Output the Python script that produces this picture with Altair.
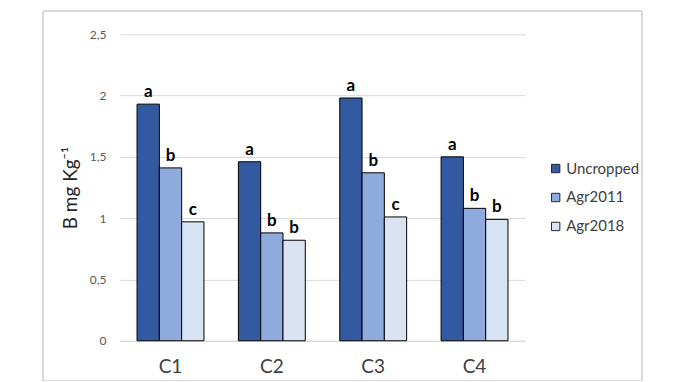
import altair as alt
import pandas as pd

categories = ["C1", "C2", "C3", "C4"]
series = ["Uncropped", "Agr2011", "Agr2018"]
uncropped = [1.93, 1.46, 1.98, 1.50]
agr2011 = [1.41, 0.88, 1.37, 1.08]
agr2018 = [0.97, 0.82, 1.01, 0.99]
letters_uncropped = ["a", "a", "a", "a"]
letters_agr2011 = ["b", "b", "b", "b"]
letters_agr2018 = ["c", "b", "c", "b"]
colors = ["#335AA0", "#8FAADC", "#DAE3F3"]
y_ticks = [0, 0.5, 1, 1.5, 2, 2.5]

rows = []
for vals, lets, s in [(uncropped, letters_uncropped, series[0]),
                      (agr2011, letters_agr2011, series[1]),
                      (agr2018, letters_agr2018, series[2])]:
    for c, v, l in zip(categories, vals, lets):
        rows.append({"cat": c, "series": s, "value": v, "letter": l})
df = pd.DataFrame(rows)

FONT = "Lato"

x = alt.X("cat:N", sort=categories, title=None,
          scale=alt.Scale(paddingInner=0.34, paddingOuter=0.17),
          axis=alt.Axis(labelAngle=0, labelFontSize=19, labelColor="#404040",
                        labelPadding=17, ticks=False, domainColor="#D9D9D9",
                        labelFont=FONT))
xo = alt.XOffset("series:N", sort=series, scale=alt.Scale(paddingInner=0, paddingOuter=0))
y = alt.Y("value:Q", title="B mg Kg⁻¹",
          scale=alt.Scale(domain=[0, 2.5], nice=False),
          axis=alt.Axis(values=y_ticks, format=",.1~f", labelExpr="replace(datum.label, '.', ',')",
                        labelFontSize=12, labelColor="#595959", labelPadding=14,
                        ticks=False, domain=False, gridColor="#D9D9D9",
                        titleFontSize=19, titleFontWeight="normal", titleColor="#262626",
                        titlePadding=9, labelFont=FONT, titleFont=FONT))

bars = alt.Chart(df).mark_bar(stroke="#000000", strokeWidth=1).encode(
    x=x, xOffset=xo, y=y,
    color=alt.Color("series:N", sort=series,
                    scale=alt.Scale(domain=series, range=colors),
                    legend=alt.Legend(title=None, orient="none", legendX=429, legendY=127,
                                      symbolType="square", symbolSize=70,
                                      symbolStrokeColor="#262626", symbolStrokeWidth=1,
                                      labelFontSize=15, labelColor="#404040", labelFont=FONT,
                                      rowPadding=13, labelOffset=3))
)

text = alt.Chart(df).mark_text(fontWeight="bold", fontSize=17, baseline="bottom", dy=-3,
                               color="#000000", font=FONT).encode(
    x=alt.X("cat:N", sort=categories), xOffset=alt.XOffset("series:N", sort=series),
    y="value:Q", text="letter:N"
)

frame = alt.Chart(df).mark_rect(fill=None, stroke="#D9D9D9", strokeWidth=1).encode(
    x=alt.value(-77), x2=alt.value(523), y=alt.value(-23), y2=alt.value(347)
)

chart = alt.layer(frame, bars, text).properties(
    width=406, height=307,
    autosize=alt.AutoSizeParams(type="none"),
    padding={"left": 112, "top": 26, "right": 140, "bottom": 40},
    background="#FFFFFF",
).configure_view(stroke=None)

chart.save("out.html", embed_options={"renderer": "svg", "actions": False})
